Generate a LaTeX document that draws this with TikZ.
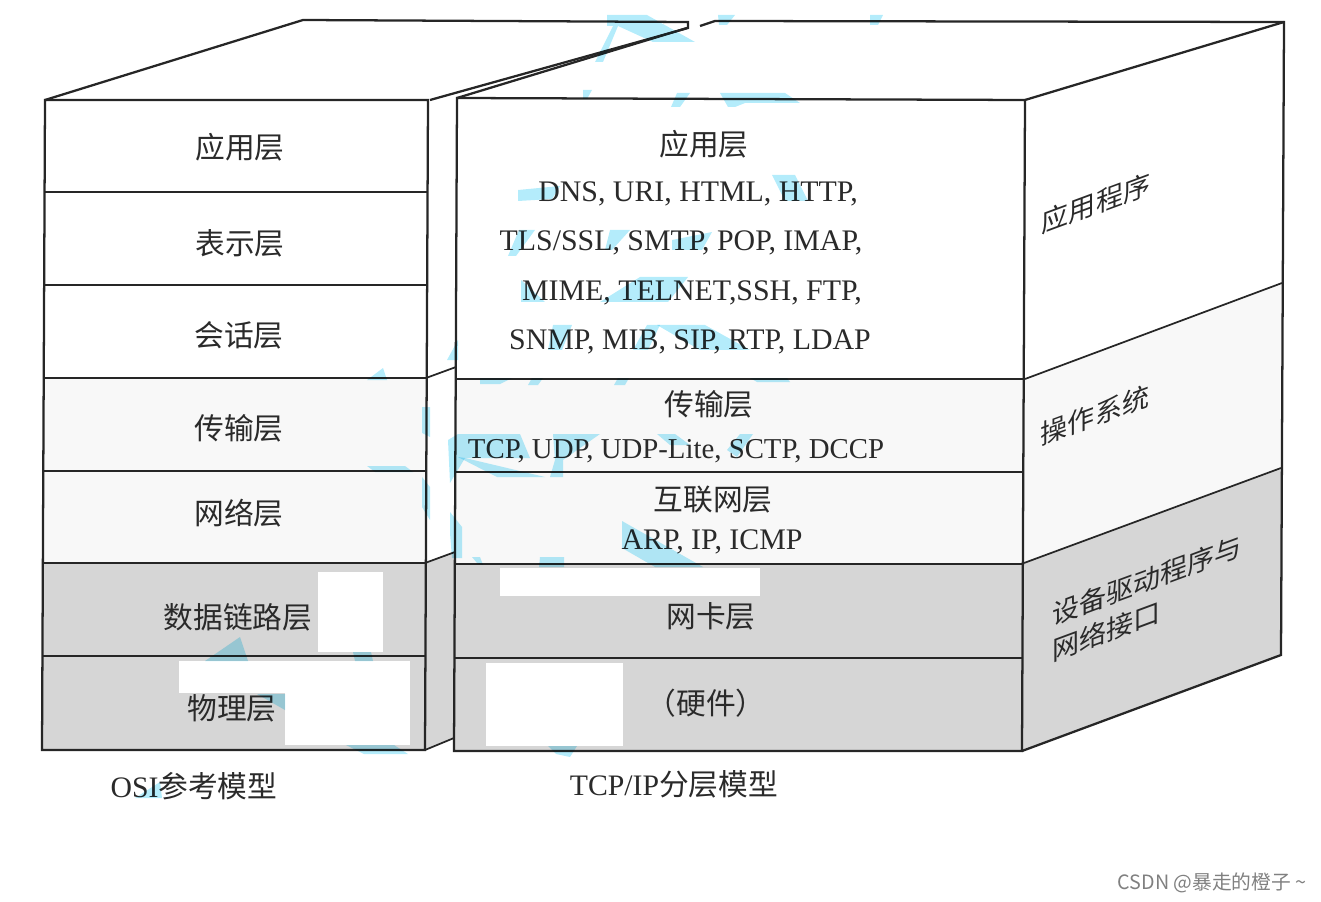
\documentclass[tikz,border=0pt]{standalone}
\usepackage{fontspec}
\usepackage{xcolor}
\usepackage{tikz}
\setmainfont{Liberation Serif}
\newfontfamily\cjkfont{Noto Sans CJK SC}
\newfontfamily\markfont{Noto Sans CJK SC}
\definecolor{bandgray}{HTML}{D6D6D6}
\definecolor{bandlight}{HTML}{F8F8F8}
\definecolor{markblue}{HTML}{B4ECFB}
\definecolor{inkgray}{HTML}{2A2A2A}
\tikzset{
  layerline/.style={line width=1.7pt, black!85},
  sideline/.style={line width=1.3pt, black!85},
  cjklabel/.style={font=\cjkfont\fontsize{22.3}{27}\selectfont, text=inkgray, inner sep=0pt},
  protolabel/.style={font=\fontsize{22.4}{27}\selectfont, text=inkgray, inner sep=0pt},
  sidelabel/.style={font=\cjkfont\fontsize{20.3}{27}\selectfont, text=inkgray, inner sep=0pt, yslant=0.37, align=left},
  wmark/.style={fill=markblue, draw=none, blend mode=multiply},
  patch/.style={fill=white, draw=none}
}

\begin{document}
\begin{tikzpicture}[x=0.75pt,y=-0.75pt]
\useasboundingbox (0,0) rectangle (1321,902);

% band fills, front faces and side faces
\fill[bandlight] (44,378) rectangle (427,563);
\fill[bandlight] (455,379) rectangle (1023,564);
\fill[bandlight] (1024,379) -- (1282,283) -- (1281,468) -- (1023,563) -- cycle;
\fill[bandgray] (43,563) rectangle (426,750);
\fill[bandgray] (455,564) rectangle (1023,751);
\fill[bandgray] (425,563) -- (455,552) -- (454,738) -- (425,750) -- cycle;
\fill[bandgray] (1023,563) -- (1281,468) -- (1281,655) -- (1022,751) -- cycle;

% white patches over the scan
\fill[patch] (426,215) rectangle (454,271);
\fill[patch] (318,572) rectangle (383,652);
\fill[patch] (179,661) rectangle (410,693);
\fill[patch] (285,693) rectangle (410,745);
\fill[patch] (500,568) rectangle (760,596);
\fill[patch] (486,663) rectangle (623,746);

% left block
\draw[layerline] (45,100) -- (42,750) -- (425,750) -- (428,100) -- cycle;
\draw[layerline] (45,100) -- (303,20) -- (688,22) -- (688,28) -- (430,100);
\foreach \y/\xa/\xb in {192/45/428, 285/44/427, 378/44/427, 471/43/426, 563/43/426, 656/42/425} {
  \draw[layerline] (\xa,\y) -- (\xb,\y);
}
\draw[sideline] (426,378) -- (456,367);
\draw[sideline] (425,563) -- (455,552);
\draw[sideline] (425,750) -- (454,738);

% right block
\draw[layerline] (457,98) -- (454,751) -- (1022,751) -- (1025,100) -- cycle;
\draw[layerline] (457,98) -- (687,28);
\draw[layerline] (700,26) -- (715,21) -- (1284,22) -- (1281,655) -- (1022,751);
\draw[layerline] (1025,100) -- (1284,22);
\foreach \y/\xa/\xb in {379/456/1025, 472/455/1024, 564/455/1024, 658/454/1023} {
  \draw[layerline] (\xa,\y) -- (\xb,\y);
}
\draw[sideline] (1025,379) -- (1282,283);
\draw[sideline] (1024,563) -- (1281,468);

% left layer names
\node[cjklabel] (osiapp) at (240,147) {应用层};
\node[cjklabel] (osipres) at (240,243) {表示层};
\node[cjklabel] (osisess) at (239,335) {会话层};
\node[cjklabel] (ositrans) at (239,428) {传输层};
\node[cjklabel] (osinet) at (239,513) {网络层};
\node[cjklabel] (osilink) at (238,617) {数据链路层};
\node[cjklabel] (osiphys) at (232,708) {物理层};
\node[cjklabel] (osititle) at (194,786) {{\fontspec{Liberation Serif}OSI}参考模型};

% right layer names and protocols
\node[cjklabel] (tcpapp) at (704,144) {应用层};
\node[protolabel] (protoa) at (698,194) {DNS, URI, HTML, HTTP,};
\node[protolabel] (protob) at (681,243) {TLS/SSL, SMTP, POP, IMAP,};
\node[protolabel] (protoc) at (692,293) {MIME, TELNET,SSH, FTP,};
\node[protolabel] (protod) at (690,342) {SNMP, MIB, SIP, RTP, LDAP};
\node[cjklabel] (tcptrans) at (709,404) {传输层};
\node[protolabel, font=\fontsize{21.6}{27}\selectfont] (protoe) at (676,451) {TCP, UDP, UDP-Lite, SCTP, DCCP};
\node[cjklabel] (tcpnet) at (713,500) {互联网层};
\node[protolabel] (protof) at (712,542) {ARP, IP, ICMP};
\node[cjklabel] (tcplink) at (711,616) {网卡层};
\node[cjklabel] (tcphw) at (706,703) {（硬件）};
\node[cjklabel] (tcptitle) at (674,784) {{\fontspec{Liberation Serif}TCP/IP}分层模型};

% side names
\node[sidelabel] (sideapp) at (1096,203) {应用程序};
\node[sidelabel] (sideos) at (1095,415) {操作系统};
\node[sidelabel] (sidedrv) at (1147,598) {设备驱动程序与\\网络接口};

% source mark
\node[font=\markfont\fontsize{14.8}{17}\selectfont, text=black!50, inner sep=0pt] (source) at (1212,883) {CSDN @暴走的橙子 \string~};

% blue scraps, top
\fill[wmark] (607,15) -- (647,15) -- (695,42) -- (653,42) -- (618,26) -- (603,62) -- (595,62) -- (613,26) -- (607,26) -- cycle;
\fill[wmark] (718,15) -- (735,15) -- (727,25) -- (719,25) -- cycle;
\fill[wmark] (870,15) -- (883,15) -- (878,25) -- (870,25) -- cycle;
\fill[wmark] (583,90) -- (592,90) -- (587,99) -- (583,99) -- cycle;
\fill[wmark] (677,93) -- (690,93) -- (680,107) -- (671,107) -- cycle;
\fill[wmark] (720,93) -- (785,93) -- (800,103) -- (745,103) -- (735,107) -- (728,107) -- cycle;
% blue scraps, protocol lines
\fill[wmark] (518,190) -- (560,186) -- (552,199) -- (518,201) -- cycle;
\fill[wmark] (772,175) -- (795,175) -- (808,201) -- (785,201) -- cycle;
\fill[wmark] (519,230) -- (535,230) -- (516,256) -- (508,256) -- cycle;
\fill[wmark] (610,230) -- (630,230) -- (612,250) -- (605,250) -- cycle;
\fill[wmark] (672,240) -- (712,232) -- (702,250) -- (672,250) -- cycle;
\fill[wmark] (521,280) -- (545,302) -- (521,302) -- cycle;
\fill[wmark] (600,302) -- (640,277) -- (688,277) -- (668,302) -- cycle;
\fill[wmark] (553,325) -- (572,325) -- (562,350) -- (548,350) -- cycle;
\fill[wmark] (647,325) -- (660,325) -- (648,350) -- (633,350) -- cycle;
\fill[wmark] (657,325) -- (705,325) -- (750,350) -- (700,350) -- cycle;
% blue scraps, middle
\fill[wmark] (458,340) -- (447,360) -- (458,360) -- cycle;
\fill[wmark] (367,380) -- (383,368) -- (387,380) -- cycle;
\fill[wmark] (480,378) -- (512,378) -- (500,384) -- (480,384) -- cycle;
\fill[wmark] (532,378) -- (543,378) -- (538,385) -- (528,385) -- cycle;
\fill[wmark] (618,378) -- (629,378) -- (625,385) -- (614,385) -- cycle;
\fill[wmark] (750,378) -- (787,378) -- (790,382) -- (757,382) -- cycle;
\fill[wmark] (422,407) -- (430,407) -- (430,437) -- (422,433) -- cycle;
\fill[wmark] (458,434) -- (520,434) -- (530,458) -- (465,458) -- (450,483) -- (448,440) -- cycle;
\fill[wmark] (458,457) -- (465,458) -- (545,477) -- (497,477) -- cycle;
\fill[wmark] (553,434) -- (600,434) -- (563,460) -- (563,477) -- (550,477) -- (555,460) -- cycle;
\fill[wmark] (657,434) -- (675,434) -- (690,445) -- (670,445) -- cycle;
\fill[wmark] (740,434) -- (753,434) -- (737,457) -- (727,450) -- cycle;
\fill[wmark] (367,466) -- (405,466) -- (413,472) -- (375,472) -- cycle;
\fill[wmark] (422,477) -- (430,487) -- (430,520) -- (422,507) -- cycle;
\fill[wmark] (450,512) -- (462,527) -- (462,558) -- (452,558) -- (450,533) -- cycle;
\fill[wmark] (472,557) -- (480,557) -- (483,565) -- (477,563) -- cycle;
\fill[wmark] (540,557) -- (564,557) -- (564,567) -- (539,567) -- cycle;
\fill[wmark] (622,521) -- (703,567) -- (655,567) -- (622,548) -- cycle;
% blue scraps, bottom
\fill[wmark] (205,661) -- (240,637) -- (248,661) -- cycle;
\fill[wmark] (257,694) -- (285,694) -- (285,710) -- cycle;
\fill[wmark] (353,652) -- (371,652) -- (373,661) -- (355,661) -- cycle;
\fill[wmark] (346,745) -- (394,745) -- (408,754) -- (364,754) -- cycle;
\fill[wmark] (548,746) -- (577,746) -- (570,757) -- (556,754) -- cycle;
\fill[wmark] (135,798) -- (160,782) -- (162,798) -- cycle;

\end{tikzpicture}
\end{document}
